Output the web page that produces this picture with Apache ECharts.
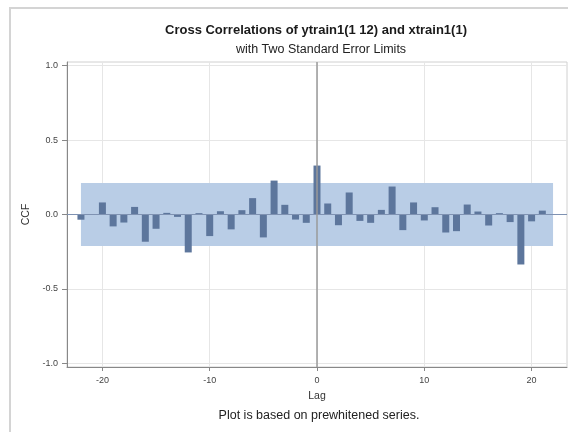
<!DOCTYPE html>
<html>
<head>
<meta charset="utf-8">
<script src="https://cdn.jsdelivr.net/npm/echarts@6/dist/echarts.min.js"></script>
<style>
  html, body { margin: 0; padding: 0; background: #ffffff; }
  #chart { width: 568px; height: 432px; }
</style>
</head>
<body>
<div id="chart"></div>
<script>
// Cross-correlation values by lag
const lags = [-22, -21, -20, -19, -18, -17, -16, -15, -14, -13, -12, -11, -10, -9, -8, -7, -6, -5, -4, -3, -2, -1,
              0, 1, 2, 3, 4, 5, 6, 7, 8, 9, 10, 11, 12, 13, 14, 15, 16, 17, 18, 19, 20, 21];
const ccf = [-0.035, 0.0, 0.081, -0.080, -0.054, 0.051, -0.183, -0.096, 0.011, -0.016, -0.255, 0.009, -0.145, 0.022,
             -0.100, 0.029, 0.110, -0.154, 0.228, 0.065, -0.034, -0.056,
             0.329, 0.074, -0.072, 0.148, -0.043, -0.056, 0.031, 0.188, -0.105, 0.081, -0.040, 0.049, -0.121, -0.112,
             0.067, 0.020, -0.074, 0.009, -0.051, -0.336, -0.046, 0.026];
// Two standard error limits
const limitLag = [-22, 22];
const limitValue = 0.211;
// Tick labels
const yTicks = [-1, -0.5, 0, 0.5, 1];
const xTicks = [-20, -10, 0, 10, 20];

const chart = echarts.init(document.getElementById('chart'), null, { renderer: 'canvas' });
const font = 'Liberation Sans, Arial, sans-serif';

chart.setOption({
  animation: false,
  backgroundColor: '#ffffff',
  title: [
    {
      text: 'Cross Correlations of ytrain1(1 12) and xtrain1(1)',
      left: 311, top: 19, textAlign: 'center',
      textStyle: { fontFamily: font, fontSize: 13, fontWeight: 'bold', color: '#1a1a1a' }
    },
    {
      text: 'with Two Standard Error Limits',
      left: 316, top: 38, textAlign: 'center',
      textStyle: { fontFamily: font, fontSize: 12.5, fontWeight: 'normal', color: '#222' }
    },
    {
      text: 'Plot is based on prewhitened series.',
      left: 314, top: 404, textAlign: 'center',
      textStyle: { fontFamily: font, fontSize: 12.5, fontWeight: 'normal', color: '#222' }
    }
  ],
  graphic: [
    {
      type: 'rect', silent: true, z: -1,
      shape: { x: 10, y: 8, width: 600, height: 500 },
      style: { fill: 'none', stroke: '#d4d4d4', lineWidth: 2 }
    }
  ],
  grid: {
    left: 67, right: 1, top: 62, height: 305,
    show: true, borderColor: '#d0d0d0', borderWidth: 1, backgroundColor: 'transparent'
  },
  xAxis: {
    type: 'value', min: -23.3, max: 23.3,
    name: 'Lag', nameLocation: 'middle', nameGap: 24,
    nameTextStyle: { fontFamily: font, fontSize: 10.5, color: '#333' },
    axisLine: { show: true, onZero: false, lineStyle: { color: '#888' } },
    axisTick: { show: true, length: 4, customValues: xTicks, lineStyle: { color: '#888' } },
    axisLabel: { customValues: xTicks, fontFamily: font, fontSize: 9, color: '#444', margin: 9 },
    splitLine: { show: true, lineStyle: { color: '#e6e6e6' } }
  },
  yAxis: {
    type: 'value', min: -1.025, max: 1.025,
    name: 'CCF', nameLocation: 'middle', nameGap: 20, nameRotate: 90,
    nameTextStyle: { fontFamily: font, fontSize: 10.5, color: '#333' },
    axisLine: { show: true, onZero: false, lineStyle: { color: '#888' } },
    axisTick: { show: true, length: 5, customValues: yTicks, lineStyle: { color: '#888' } },
    axisLabel: {
      customValues: yTicks, fontFamily: font, fontSize: 9, color: '#444', margin: 9,
      formatter: v => v.toFixed(1)
    },
    splitLine: { show: true, lineStyle: { color: '#e6e6e6' } }
  },
  series: [
    {
      type: 'bar',
      data: lags.map((l, i) => [l, ccf[i]]),
      barWidth: 7,
      itemStyle: { color: '#5d769c' },
      z: 3,
      markArea: {
        silent: true,
        itemStyle: { color: '#b9cde6' },
        data: [[{ coord: [limitLag[0], -limitValue] }, { coord: [limitLag[1], limitValue] }]]
      },
      markLine: {
        silent: true, symbol: 'none', label: { show: false },
        data: [
          { yAxis: 0, lineStyle: { color: '#7f92b2', width: 1, type: 'solid' } },
          { xAxis: 0, lineStyle: { color: '#9a9a9a', width: 1.5, type: 'solid' } }
        ]
      }
    }
  ]
});
</script>
</body>
</html>
